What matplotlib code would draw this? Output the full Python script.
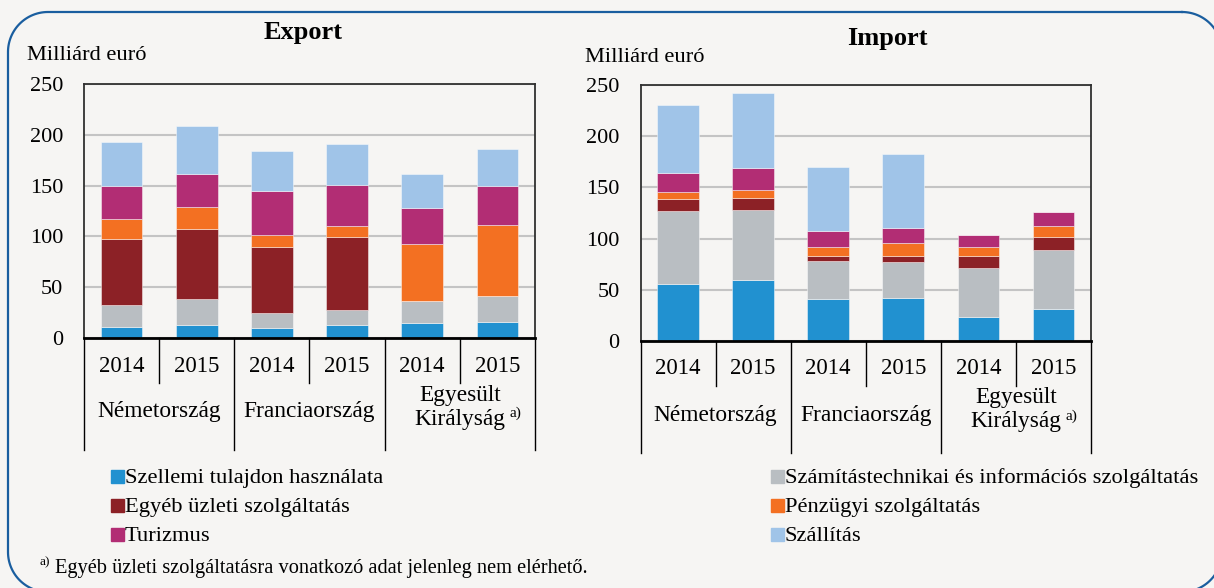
import numpy as np
import matplotlib.pyplot as plt
from matplotlib.patches import Rectangle

plt.rcParams['font.family'] = ['Liberation Serif', 'DejaVu Serif']

# adatok (milliárd euró), oszlopok: DE 2014, DE 2015, FR 2014, FR 2015, UK 2014, UK 2015
years = ['2014', '2015', '2014', '2015', '2014', '2015']
countries = ['Németország', 'Franciaország']
uk_line1 = 'Egyesült'
uk_line2 = 'Királyság'

series_names = ['Szellemi tulajdon használata',
                'Számítástechnikai és információs szolgáltatás',
                'Egyéb üzleti szolgáltatás',
                'Pénzügyi szolgáltatás',
                'Turizmus',
                'Szállítás']
colors = ['#2191D0', '#B9BEC2', '#8C2126', '#F37022', '#B22D74', '#A0C4E8']

export_szellemi = [10.5, 12.5, 10.2, 12.5, 14.4, 15.4]
export_szamitas = [21.9, 25.8, 14.4, 15.0, 22.3, 26.2]
export_egyeb = [64.9, 68.5, 64.9, 71.8, 0, 0]
export_penzugy = [20.0, 22.3, 11.4, 11.4, 56.0, 69.5]
export_turizmus = [32.1, 32.8, 43.3, 40.3, 35.1, 38.3]
export_szallitas = [43.6, 47.1, 39.6, 40.0, 33.4, 36.4]

import_szellemi = [56.0, 59.2, 40.7, 42.3, 23.4, 30.9]
import_szamitas = [70.6, 69.0, 37.4, 35.2, 47.9, 57.6]
import_egyeb = [11.7, 11.4, 4.9, 5.2, 11.7, 12.7]
import_penzugy = [6.9, 8.2, 9.1, 12.7, 8.5, 11.4]
import_turizmus = [19.2, 21.5, 15.6, 14.9, 12.3, 13.7]
import_szallitas = [66.4, 72.6, 61.9, 72.3, 0, 0]

W, H = 1214, 588
bg = '#F6F5F3'

fig = plt.figure(figsize=(W / 100, H / 100), dpi=100)
fig.patch.set_facecolor(bg)

# háttér-tengely pixel koordinátákkal a lekerekített kerethez
bgax = fig.add_axes([0, 0, 1, 1], zorder=-1)
bgax.set_xlim(0, W)
bgax.set_ylim(H, 0)
bgax.axis('off')


def rounded_frame(x0, y0, x1, y1, r, n=30):
    pts = []
    corners = [(x1 - r, y0 + r, -90, 0), (x1 - r, y1 - r, 0, 90),
               (x0 + r, y1 - r, 90, 180), (x0 + r, y0 + r, 180, 270)]
    for cx, cy, a0, a1 in corners:
        t = np.radians(np.linspace(a0, a1, n))
        pts += list(zip(cx + r * np.cos(t), cy + r * np.sin(t)))
    pts.append(pts[0])
    return np.array(pts)


fr = rounded_frame(8, 12, 1222, 592, 40)
bgax.plot(fr[:, 0], fr[:, 1], color='#1A5E9F', lw=1.6, clip_on=False)


def panel(left, right, top, zero, series, title, title_xy, unit_xy):
    ax = fig.add_axes([left / W, 1 - zero / H, (right - left) / W, (zero - top) / H])
    ax.set_facecolor(bg)
    x = np.arange(len(years))
    bottom = np.zeros(len(years))
    for vals, c in zip(series, colors):
        ax.bar(x, vals, 0.555, bottom=bottom, color=c, edgecolor=(1, 1, 1, 0.45),
               linewidth=0.7, zorder=3)
        bottom += np.array(vals)
    ax.set_xlim(-0.5, 5.5)
    ax.set_ylim(0, 250)
    ax.set_yticks(range(0, 251, 50))
    ax.grid(axis='y', color='#C4C4C4', lw=1.5, zorder=0)
    ax.tick_params(axis='y', length=0, labelsize=16, pad=15)
    ax.tick_params(axis='x', length=0, labelbottom=False)
    for s in ax.spines.values():
        s.set_color('#303030')
        s.set_linewidth(1.3)
    ax.spines['bottom'].set_linewidth(2)
    ax.spines['bottom'].set_color('black')
    ax.spines['bottom'].set_zorder(4)

    # kategória-táblázat az x tengely alatt
    span = zero - top
    f = lambda y: (zero - y) / span
    tr = ax.get_xaxis_transform()
    for xd in [0.5, 2.5, 4.5]:
        ax.plot([xd, xd], [0, f(zero + 45)], color='black', lw=1, transform=tr, clip_on=False)
    for xd in [-0.5, 1.5, 3.5, 5.5]:
        ax.plot([xd, xd], [0, f(zero + 112)], color='black', lw=1, transform=tr, clip_on=False)
    for i, yr in enumerate(years):
        ax.text(i, f(zero + 28), yr, transform=tr, ha='center', va='center', fontsize=16.5)
    for i, c in enumerate(countries):
        ax.text(2 * i + 0.5, f(zero + 74), c, transform=tr, ha='center', va='center', fontsize=16.8)
    ax.text(4.5, f(zero + 57), uk_line1, transform=tr, ha='center', va='center', fontsize=16.8)
    kir = ax.text(4.5, f(zero + 81), uk_line2, transform=tr, ha='center', va='center', fontsize=16.8)
    ax.annotate('a)', xy=(1, 0.45), xycoords=kir, xytext=(3, 0), textcoords='offset points',
                fontsize=11, va='bottom', ha='left')

    fig.text(title_xy[0] / W, 1 - title_xy[1] / H, title, ha='center', va='center',
             fontsize=19, fontweight='bold')
    fig.text(unit_xy[0] / W, 1 - unit_xy[1] / H, 'Milliárd euró', ha='left', va='center', fontsize=16.2)
    return ax


panel(84, 535, 84, 338,
      [export_szellemi, export_szamitas, export_egyeb, export_penzugy, export_turizmus, export_szallitas],
      'Export', (303, 33), (27, 56))
panel(640.5, 1091, 85, 341,
      [import_szellemi, import_szamitas, import_egyeb, import_penzugy, import_turizmus, import_szallitas],
      'Import', (887, 39), (585, 58))

# jelmagyarázat
legend_pos = [(0, 111, 476), (2, 111, 505), (4, 111, 534),
              (1, 771, 476), (3, 771, 505), (5, 771, 534)]
for idx, lx, ly in legend_pos:
    fig.patches.append(Rectangle((lx / W, 1 - (ly + 6.5) / H), 12.5 / W, 13 / H,
                                 transform=fig.transFigure, color=colors[idx], figure=fig))
    fig.text((lx + 14) / W, 1 - (ly + 7) / H, series_names[idx], ha='left', va='baseline',
             fontsize=16.2)

# lábjegyzet
fig.text(40 / W, 1 - 562 / H, 'a)', ha='left', va='center', fontsize=9.5)
fig.text(55 / W, 1 - (567 + 6) / H, 'Egyéb üzleti szolgáltatásra vonatkozó adat jelenleg nem elérhető.',
         ha='left', va='baseline', fontsize=14.7)

fig.savefig('out.png', dpi=100, facecolor=bg)
